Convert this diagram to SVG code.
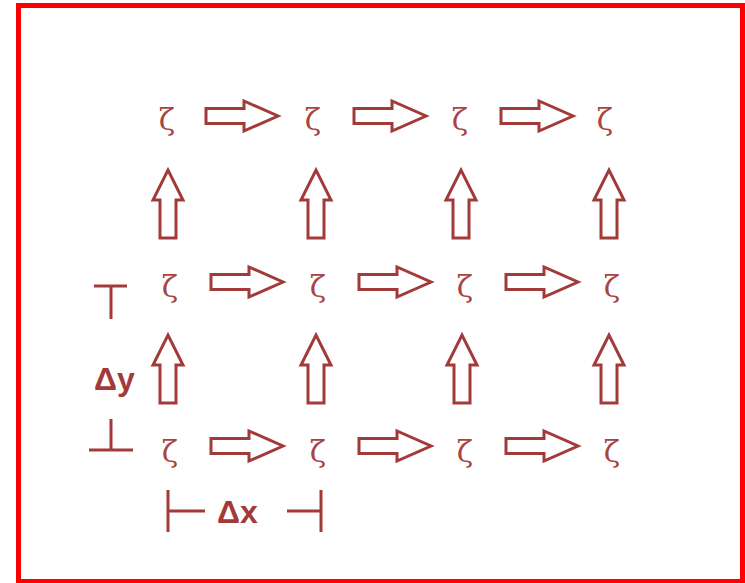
<svg xmlns="http://www.w3.org/2000/svg" width="745" height="583" viewBox="0 0 745 583">
<defs>
<style>
.z{font-family:"DejaVu Serif","Liberation Serif",serif;font-size:30px;fill:#a84444;text-anchor:middle}
.lbl{font-family:"Liberation Sans",Arial,sans-serif;font-weight:bold;font-size:32px;fill:#a33a3a}
.ar{fill:#fff;stroke:#a33a3a;stroke-width:3;stroke-linejoin:miter}
.ln{stroke:#a33a3a;stroke-width:3;fill:none}
</style>
<path id="ha" d="M0,-7.5 H38 V-15 L72,0 L38,15 V7.5 H0 Z"/>
<path id="va" d="M-8,0 V-38 H-15 L0,-68 L15,-38 H8 V0 Z"/>
</defs>
<rect x="18.5" y="5.5" width="724" height="576" fill="#fff" stroke="#ff0000" stroke-width="5"/>
<g id="nodes">
<g id="z11"><text class="z" x="167" y="130">ζ</text></g>
<g id="z12"><text class="z" x="313" y="130">ζ</text></g>
<g id="z13"><text class="z" x="460" y="130">ζ</text></g>
<g id="z14"><text class="z" x="605" y="130">ζ</text></g>
<g id="z21"><text class="z" x="170" y="297">ζ</text></g>
<g id="z22"><text class="z" x="318" y="297">ζ</text></g>
<g id="z23"><text class="z" x="465" y="297">ζ</text></g>
<g id="z24"><text class="z" x="612" y="297">ζ</text></g>
<g id="z31"><text class="z" x="170" y="462">ζ</text></g>
<g id="z32"><text class="z" x="318" y="462">ζ</text></g>
<g id="z33"><text class="z" x="465" y="462">ζ</text></g>
<g id="z34"><text class="z" x="612" y="462">ζ</text></g>
</g>
<g id="connectors">
<use href="#ha" class="ar" x="206" y="116"/>
<use href="#ha" class="ar" x="354" y="116"/>
<use href="#ha" class="ar" x="501" y="116"/>
<use href="#ha" class="ar" x="211" y="282"/>
<use href="#ha" class="ar" x="359" y="282"/>
<use href="#ha" class="ar" x="506" y="282"/>
<use href="#ha" class="ar" x="211" y="446"/>
<use href="#ha" class="ar" x="359" y="446"/>
<use href="#ha" class="ar" x="506" y="446"/>
<use href="#va" class="ar" x="168" y="238"/>
<use href="#va" class="ar" x="316" y="238"/>
<use href="#va" class="ar" x="461" y="238"/>
<use href="#va" class="ar" x="609" y="238"/>
<use href="#va" class="ar" x="168" y="403"/>
<use href="#va" class="ar" x="316" y="403"/>
<use href="#va" class="ar" x="462" y="403"/>
<use href="#va" class="ar" x="609" y="403"/>
</g>
<g id="dy">
<path class="ln" d="M94,286 H127 M111,286 V319"/>
<path class="ln" d="M89,450 H133 M111,419 V450"/>
<text class="lbl" x="94" y="390">Δy</text>
</g>
<g id="dx">
<path class="ln" d="M168,490 V532 M168,511 H205"/>
<path class="ln" d="M287,511 H321 M321,490 V532"/>
<text class="lbl" x="217" y="523">Δx</text>
</g>
</svg>
